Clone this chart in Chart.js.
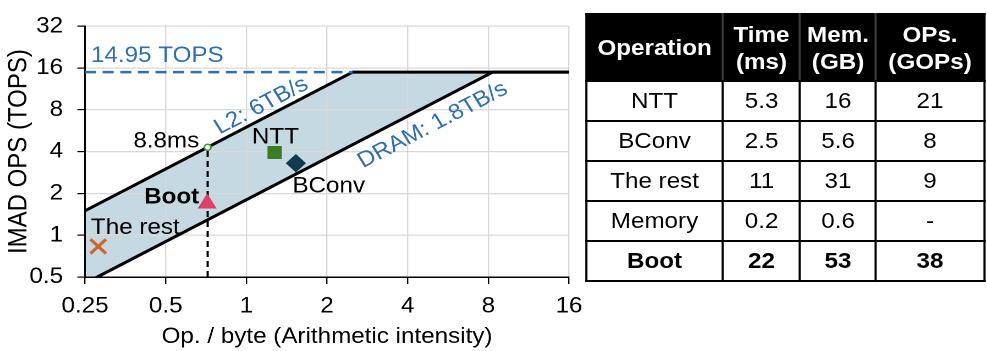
<!DOCTYPE html>
<html>
<head>
<meta charset="utf-8">
<script src="https://cdn.jsdelivr.net/npm/chart.js@4.4.1/dist/chart.umd.min.js"></script>
<style>
  html, body { margin: 0; padding: 0; background: #fff; }
  body { width: 987px; height: 351px; overflow: hidden; font-family: Arial, "Liberation Sans", sans-serif; }
  /* the reference is slightly stretched sideways, so the whole page is drawn narrow and widened */
  #page { position: absolute; left: 0; top: 0; width: 897px; height: 351px; transform: scaleX(1.1); transform-origin: 0 0; }
  #roofline { position: absolute; left: 0; top: 0; }
  #ops { position: absolute; left: 531.8px; top: 13px; width: 361.8px; border-collapse: collapse; table-layout: fixed; font-size: 22px; color: #000; }
  #ops th, #ops td { border: 2px solid #000; text-align: center; padding: 0; }
  #ops th { background: #000; color: #fff; font-weight: bold; line-height: 27px; height: 65px; }
  #ops th:not(:last-child) { border-right-color: #3a3a3a; }
  #ops td { height: 38px; line-height: 24px; }
  #ops tr.total td { font-weight: bold; }
</style>
</head>
<body>
<div id="page">
  <canvas id="roofline" width="540" height="351"></canvas>
  <table id="ops">
    <colgroup><col style="width:124.5px"><col style="width:70px"><col style="width:69.1px"><col style="width:98.2px"></colgroup>
    <thead><tr id="ops-head"></tr></thead>
    <tbody id="ops-body"></tbody>
  </table>
</div>
<script>
// axes
const xTicks = [0.25, 0.5, 1, 2, 4, 8, 16];
const xTickLabels = ['0.25', '0.5', '1', '2', '4', '8', '16'];
const yTicks = [0.5, 1, 2, 4, 8, 16, 32];
const yTickLabels = ['0.5', '1', '2', '4', '8', '16', '32'];

// roofline
const peakTops = 14.95;
const roofNames = ['L2: 6TB/s', 'DRAM: 1.8TB/s'];
const roofBandwidth = [6, 1.8];

// measured operations (op/byte, TOPS)
const opNames = ['NTT', 'BConv', 'The rest', 'Boot'];
const opIntensity = [1.275, 1.53, 0.28, 0.714];
const opTops = [3.94, 3.3, 0.83, 1.69];

// Boot bound by L2 bandwidth
const boundLabel = ['8.8ms'];
const boundX = [0.717];
const boundY = [4.3];

// table
const tableHead = [['Operation'], ['Time', '(ms)'], ['Mem.', '(GB)'], ['OPs.', '(GOPs)']];
const tableOps = ['NTT', 'BConv', 'The rest', 'Memory', 'Boot'];
const tableTime = ['5.3', '2.5', '11', '0.2', '22'];
const tableMem = ['16', '5.6', '31', '0.6', '53'];
const tableGops = ['21', '8', '9', '-', '38'];

const FONT = 'Arial, "Liberation Sans", sans-serif';
const BLUE = '#2f6fae';
const BAND = '#c5d9e3';

// build table
const head = document.getElementById('ops-head');
tableHead.forEach(lines => {
    const th = document.createElement('th');
    th.innerHTML = lines.join('<br>');
    head.appendChild(th);
});
const body = document.getElementById('ops-body');
tableOps.forEach((op, i) => {
    const tr = document.createElement('tr');
    if (op === 'Boot') tr.className = 'total';
    [op, tableTime[i], tableMem[i], tableGops[i]].forEach(v => {
        const td = document.createElement('td');
        td.textContent = v;
        tr.appendChild(td);
    });
    body.appendChild(tr);
});

const xMin = xTicks[0], xMax = xTicks[xTicks.length - 1];
const yMin = yTicks[0];

function roofPoints(bw) {
    return [{ x: xMin, y: bw * xMin }, { x: peakTops / bw, y: peakTops }, { x: xMax, y: peakTops }];
}

// text placed on the plot (data coordinates)
const textLabels = [
    { text: '14.95 TOPS', x: 0.263, y: 19.5, align: 'left', color: BLUE },
    { text: boundLabel[0], x: 0.667, y: 4.73, align: 'right' },
    { text: opNames[0], x: 1.284, y: 5.04, align: 'center' },
    { text: opNames[1], x: 2.03, y: 2.24, align: 'center' },
    { text: opNames[3], x: 0.667, y: 1.877, align: 'right', bold: true },
    { text: opNames[2], x: 0.263, y: 1.127, align: 'left' },
    { text: roofNames[0], x: 1.138, y: 8.53, align: 'center', color: BLUE, roof: 0 },
    { text: roofNames[1], x: 4.96, y: 6.2, align: 'center', color: BLUE, roof: 1 }
];

const labelPlugin = {
    id: 'plotLabels',
    afterDatasetsDraw(chart) {
        const { ctx, scales: { x, y } } = chart;
        ctx.save();
        ctx.textBaseline = 'middle';
        textLabels.forEach(l => {
            ctx.font = (l.bold ? 'bold ' : '') + '22px ' + FONT;
            ctx.fillStyle = l.color || '#000';
            ctx.textAlign = l.align;
            const px = x.getPixelForValue(l.x);
            const py = y.getPixelForValue(l.y);
            if (l.roof !== undefined) {
                const bw = roofBandwidth[l.roof];
                const ang = Math.atan2(y.getPixelForValue(bw * 2) - y.getPixelForValue(bw * 1),
                    x.getPixelForValue(2) - x.getPixelForValue(1));
                ctx.save();
                ctx.translate(px, py);
                ctx.rotate(ang);
                ctx.fillText(l.text, 0, 0);
                ctx.restore();
            } else {
                ctx.fillText(l.text, px, py);
            }
        });
        ctx.restore();
    }
};

Chart.defaults.font.family = FONT;
Chart.defaults.color = '#000';

const axisGrid = { color: '#d9d9d9', lineWidth: 1.2, tickColor: '#000', tickLength: 7 };
const axisBorder = { color: '#000', width: 1.5 };

new Chart(document.getElementById('roofline'), {
    type: 'scatter',
    data: {
        datasets: [
            {
                // operations
                data: opNames.map((n, i) => ({ x: opIntensity[i], y: opTops[i] })),
                pointStyle: ['rect', 'rectRot', 'crossRot', 'triangle'],
                pointRadius: [8.5, 8.5, 10, 9],
                backgroundColor: ['#3b7d23', '#0f3b4f', '#d2642a', '#de4068'],
                borderColor: ['#3b7d23', '#0f3b4f', '#d2642a', '#de4068'],
                borderWidth: [1, 1, 3, 1],
                order: 0
            },
            {
                // L2-bound point
                data: boundX.map((v, i) => ({ x: v, y: boundY[i] })),
                pointStyle: 'circle',
                pointRadius: 3,
                backgroundColor: '#fff',
                borderColor: '#3c9a2c',
                borderWidth: 1.5,
                order: 1
            },
            {
                data: [{ x: boundX[0], y: yMin }, { x: boundX[0], y: boundY[0] }],
                showLine: true,
                borderColor: '#000',
                borderWidth: 2,
                borderDash: [6, 4],
                pointRadius: 0,
                order: 5
            },
            {
                data: [{ x: xMin, y: peakTops }, { x: peakTops / roofBandwidth[0], y: peakTops }],
                showLine: true,
                borderColor: BLUE,
                borderWidth: 2.5,
                borderDash: [10, 6],
                pointRadius: 0,
                order: 6
            },
            {
                data: roofPoints(roofBandwidth[0]),
                showLine: true,
                borderColor: '#000',
                borderWidth: 3,
                pointRadius: 0,
                fill: '+1',
                backgroundColor: BAND,
                order: 8
            },
            {
                data: roofPoints(roofBandwidth[1]),
                showLine: true,
                borderColor: '#000',
                borderWidth: 3,
                pointRadius: 0,
                fill: false,
                order: 7
            }
        ]
    },
    options: {
        responsive: false,
        devicePixelRatio: 2,
        animation: false,
        layout: { padding: { left: 0, top: 16, right: 22.7, bottom: 0 } },
        plugins: {
            legend: { display: false },
            tooltip: { enabled: false },
            filler: { drawTime: 'beforeDraw' }
        },
        scales: {
            x: {
                type: 'logarithmic',
                min: xMin,
                max: xMax,
                afterBuildTicks: s => { s.ticks = xTicks.map(v => ({ value: v })); },
                afterFit: s => { s.height = 74; },
                ticks: {
                    callback: (v, i) => xTickLabels[i],
                    font: { size: 22 },
                    color: '#000',
                    padding: 9,
                    maxRotation: 0,
                    autoSkip: false
                },
                grid: axisGrid,
                border: axisBorder,
                title: {
                    display: true,
                    text: 'Op. / byte (Arithmetic intensity)',
                    font: { size: 22 },
                    color: '#000',
                    padding: { top: 0, bottom: 1 }
                }
            },
            y: {
                type: 'logarithmic',
                min: yMin,
                max: yTicks[yTicks.length - 1],
                afterBuildTicks: s => { s.ticks = yTicks.map(v => ({ value: v })); },
                afterFit: s => { s.width = 77.3; },
                ticks: {
                    callback: (v, i) => yTickLabels[i],
                    font: { size: 22 },
                    color: '#000',
                    padding: 13,
                    autoSkip: false
                },
                grid: axisGrid,
                border: axisBorder,
                title: {
                    display: true,
                    text: 'IMAD OPS (TOPS)',
                    font: { size: 24 },
                    color: '#000',
                    padding: { top: 3, bottom: 0 }
                }
            }
        }
    },
    plugins: [labelPlugin]
});
</script>
</body>
</html>
